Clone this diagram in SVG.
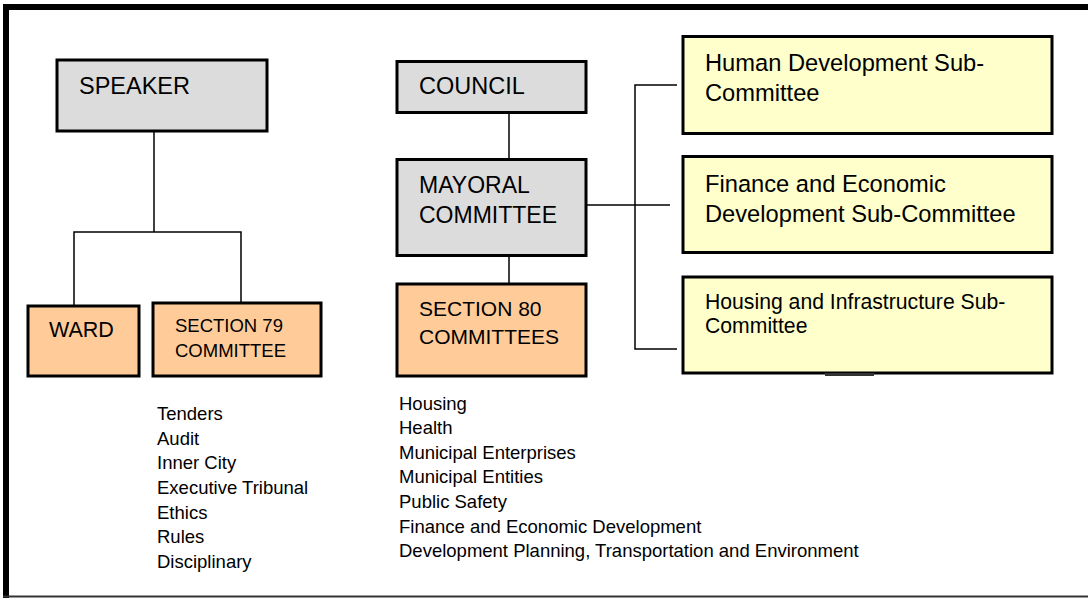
<svg xmlns="http://www.w3.org/2000/svg" width="1088" height="598" viewBox="0 0 1088 598">
<style>
  .box { stroke: #000; stroke-width: 3; }
  .gray { fill: #dcdcdc; }
  .orange { fill: #ffcc99; }
  .yellow { fill: #ffffcc; }
  .t { font-family: "Liberation Sans", Arial, sans-serif; fill: #000; }
  .conn { stroke: #000; stroke-width: 1.5; fill: none; }
</style>
<rect x="0" y="0" width="1088" height="598" fill="#fff"/>
<g id="frame">
  <line x1="3" y1="7" x2="1088" y2="7" stroke="#000" stroke-width="6"/>
  <line x1="6" y1="4" x2="6" y2="598" stroke="#000" stroke-width="6"/>
  <line x1="3" y1="596.5" x2="1088" y2="596.5" stroke="#333" stroke-width="2"/>
</g>
<g id="connectors">
  <polyline class="conn" points="154,131 154,232"/>
  <polyline class="conn" points="74,305 74,232 241,232 241,302"/>
  <polyline class="conn" points="509,112 509,158"/>
  <polyline class="conn" points="509,256 509,283"/>
  <polyline class="conn" points="587,205 670,205"/>
  <polyline class="conn" points="677,85 635,85 635,349 677,349"/>
</g>
<g id="speaker">
  <rect class="box gray" x="57" y="60" width="210" height="71"/>
  <text class="t" x="79" y="94" font-size="23.5">SPEAKER</text>
</g>
<g id="ward">
  <rect class="box orange" x="28" y="306" width="111" height="70"/>
  <text class="t" x="49" y="337" font-size="21.5">WARD</text>
</g>
<g id="section79">
  <rect class="box orange" x="153" y="303" width="168" height="73"/>
  <text class="t" x="175" y="332" font-size="18.5">SECTION 79</text>
  <text class="t" x="175" y="356.5" font-size="18.5">COMMITTEE</text>
</g>
<g id="section79-list">
  <text class="t" x="157" y="420" font-size="18.5">Tenders</text>
  <text class="t" x="157" y="444.5" font-size="18.5">Audit</text>
  <text class="t" x="157" y="469" font-size="18.5">Inner City</text>
  <text class="t" x="157" y="494" font-size="18.5">Executive Tribunal</text>
  <text class="t" x="157" y="518.5" font-size="18.5">Ethics</text>
  <text class="t" x="157" y="543" font-size="18.5">Rules</text>
  <text class="t" x="157" y="567.5" font-size="18.5">Disciplinary</text>
</g>
<g id="council">
  <rect class="box gray" x="397" y="61.5" width="189" height="51"/>
  <text class="t" x="419" y="94" font-size="23.5">COUNCIL</text>
</g>
<g id="mayoral">
  <rect class="box gray" x="397" y="159.5" width="189" height="96"/>
  <text class="t" x="419" y="192.5" font-size="23">MAYORAL</text>
  <text class="t" x="419" y="222.5" font-size="23">COMMITTEE</text>
</g>
<g id="section80">
  <rect class="box orange" x="397" y="284" width="189" height="92"/>
  <text class="t" x="419" y="315.5" font-size="21">SECTION 80</text>
  <text class="t" x="419" y="343.5" font-size="21">COMMITTEES</text>
</g>
<g id="section80-list">
  <text class="t" x="399" y="409.5" font-size="18.5">Housing</text>
  <text class="t" x="399" y="434" font-size="18.5">Health</text>
  <text class="t" x="399" y="459" font-size="18.5">Municipal Enterprises</text>
  <text class="t" x="399" y="483" font-size="18.5">Municipal Entities</text>
  <text class="t" x="399" y="508" font-size="18.5">Public Safety</text>
  <text class="t" x="399" y="532.5" font-size="18.5">Finance and Economic Development</text>
  <text class="t" x="399" y="557" font-size="18.5">Development Planning, Transportation and Environment</text>
</g>
<g id="human-dev">
  <rect class="box yellow" x="683" y="36.5" width="369" height="97"/>
  <text class="t" x="705" y="71" font-size="23.7">Human Development Sub-</text>
  <text class="t" x="705" y="101" font-size="23.7">Committee</text>
</g>
<g id="finance-dev">
  <rect class="box yellow" x="683" y="156.5" width="369" height="96"/>
  <text class="t" x="705" y="191.5" font-size="23.7">Finance and Economic</text>
  <text class="t" x="705" y="221.5" font-size="23.7">Development Sub-Committee</text>
</g>
<g id="housing-infra">
  <rect class="box yellow" x="683" y="277" width="369" height="96"/>
  <text class="t" x="705" y="308.5" font-size="21.2">Housing and Infrastructure Sub-</text>
  <text class="t" x="705" y="332.5" font-size="21.2">Committee</text>
  <rect x="825" y="373" width="49" height="3" fill="#333"/>
</g>
</svg>
